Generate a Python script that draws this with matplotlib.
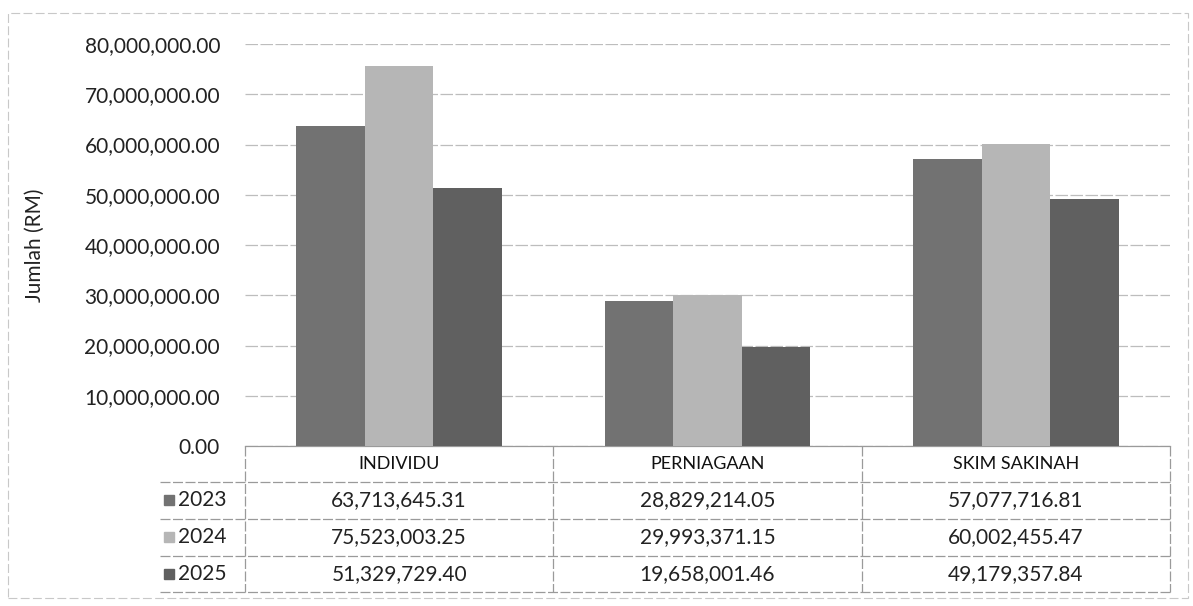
import matplotlib
matplotlib.use("Agg")
import matplotlib.pyplot as plt
from matplotlib.patches import Rectangle

categories = ["INDIVIDU", "PERNIAGAAN", "SKIM SAKINAH"]
years = ["2023", "2024", "2025"]
v2023 = [63713645.31, 28829214.05, 57077716.81]
v2024 = [75523003.25, 29993371.15, 60002455.47]
v2025 = [51329729.40, 19658001.46, 49179357.84]
yticks = [0, 10e6, 20e6, 30e6, 40e6, 50e6, 60e6, 70e6, 80e6]

series = [v2023, v2024, v2025]
colors = ["#727272", "#b6b6b6", "#606060"]

plt.rcParams['font.family'] = ['Lato', 'DejaVu Sans']

fig = plt.figure(figsize=(11.93, 6.06), dpi=100)
ax = fig.add_axes([245/1193, 1-446/606, 925/1193, 402/606])

# outer chart border
fig.patches.append(Rectangle((8/1193, 1-598/606), 1180/1193, 585/606,
                             transform=fig.transFigure, fill=False,
                             edgecolor="#c8c8c8", lw=0.8, ls=(0, (8, 3))))

w = 0.222
x = list(range(len(categories)))
for i, (vals, c) in enumerate(zip(series, colors)):
    ax.bar([xx + (i-1)*w for xx in x], vals, width=w, color=c, zorder=3)

ax.set_xlim(-0.5, 2.5)
ax.set_ylim(0, 80e6)
ax.set_yticks(yticks)
ax.set_yticklabels([f"{t:,.2f}" for t in yticks], fontsize=15, color="#222222")
ax.tick_params(axis='y', length=0, pad=18)
ax.set_xticks([])
ax.grid(axis='y', color="#bdbdbd", lw=0.9, ls=(0, (10, 2)), zorder=0)
for s in ax.spines.values():
    s.set_visible(False)

fig.text(35/1193, 1-245/606, "Jumlah (RM)", rotation=90, fontsize=15,
         va='center', ha='center', color="#222222")

# data table under the axis
tr = ax.get_xaxis_transform()
rows_y = [0, -0.089, -0.181, -0.273, -0.363]
lab_left = -0.775
lc = "#9a9a9a"
ax.plot([-0.5, 2.5], [0, 0], transform=tr, color=lc, lw=0.9, clip_on=False)
for yy in rows_y[1:]:
    ax.plot([lab_left, 2.5], [yy, yy], transform=tr, color=lc, lw=0.9,
            ls=(0, (8, 2)), clip_on=False)
for xx in [-0.5, 0.5, 1.5, 2.5]:
    ax.plot([xx, xx], [0, rows_y[-1]], transform=tr, color=lc, lw=0.9,
            ls=(0, (8, 2)), clip_on=False)

for j, cat in enumerate(categories):
    ax.text(j, (rows_y[0]+rows_y[1])/2, cat, transform=tr, ha='center',
            va='center', fontsize=13, color="#111111")
    for i, vals in enumerate(series):
        ax.text(j, (rows_y[i+1]+rows_y[i+2])/2, f"{vals[j]:,.2f}", transform=tr,
                ha='center', va='center', fontsize=15, color="#222222")

for i, (yr, c) in enumerate(zip(years, colors)):
    ym = (rows_y[i+1]+rows_y[i+2])/2
    ax.plot([-0.745], [ym], marker='s', markersize=7, color=c, transform=tr,
            clip_on=False)
    ax.text(-0.718, ym, yr, transform=tr, ha='left', va='center', fontsize=15,
            color="#222222")

fig.savefig("out.png", dpi=100)
